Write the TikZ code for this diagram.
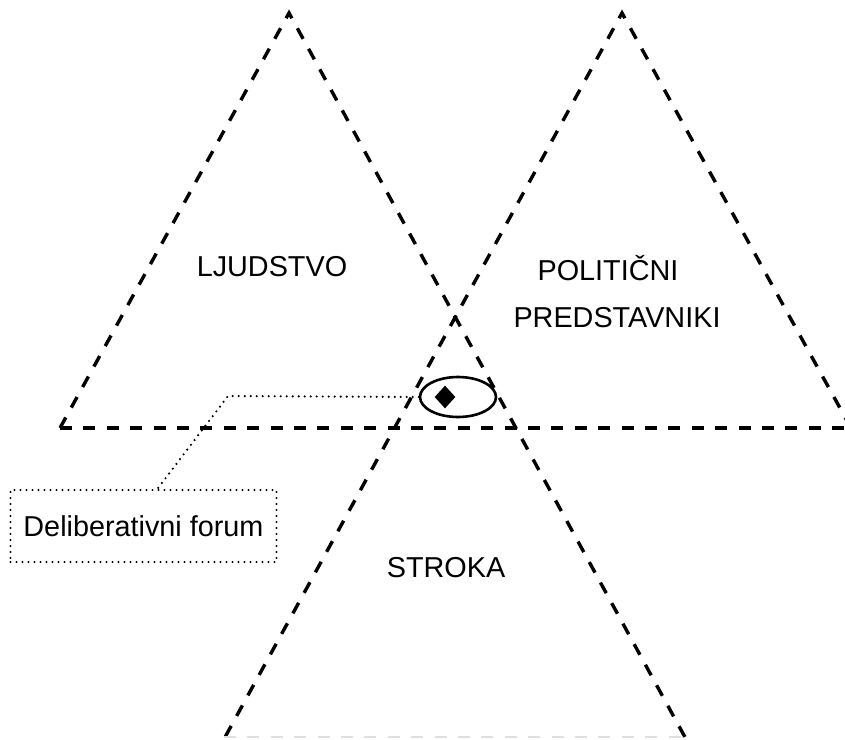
\documentclass[tikz,border=0pt]{standalone}
\usepackage{fontspec}
\setmainfont{Liberation Sans}
\usetikzlibrary{shapes.geometric,calc}

\begin{document}
\begin{tikzpicture}[
  x=0.5pt, y=-0.5pt,
  font=\fontsize{14.4}{17}\selectfont,
  edge/.style={line width=1.7pt, dash pattern=on 6pt off 5.7pt},
  faint/.style={line width=1.2pt, gray!25, dash pattern=on 6pt off 5.7pt},
  callout/.style={line width=1.2pt, line cap=round, dash pattern=on 0pt off 3pt},
  lbl/.style={inner sep=0pt, align=center}
]
\useasboundingbox (0,0) rectangle (845,739);
\clip (0,0) rectangle (845,739);

% ---- Triangle corners ----
\coordinate (ljtop)  at (289,13);
\coordinate (ljleft) at (60,428);
\coordinate (potop)  at (622,13);
\coordinate (poright) at (851,428);
\coordinate (baseend) at (845,428);
\coordinate (stleft)  at (224,739);
\coordinate (stright) at (686,739);

% ---- Triangles (dashed) ----
\draw[edge] (ljleft) -- (ljtop) -- (stright);
\draw[edge] (poright) -- (potop) -- (stleft);
\draw[edge] (ljleft) -- (baseend);
\draw[faint] (stleft |- 0,737) -- (stright |- 0,737);

% ---- Labels ----
\node[lbl] (ljudstvo) at (272,267) {LJUDSTVO};
\node[lbl] (politicni) at (608,268) {POLITIČNI};
\node[lbl] (predst) at (617,318) {PREDSTAVNIKI};
\node[lbl] (stroka) at (446,568) {STROKA};

% ---- Deliberative forum ----
\node[draw, ellipse, line width=1.3pt, minimum width=38pt,
      minimum height=20pt, inner sep=0pt] (forum) at (458,397) {};
\node[diamond, fill=black, inner sep=0pt, minimum width=10.5pt,
      minimum height=11.5pt] (dot) at (445,397) {};
\node[draw, callout, minimum width=133pt, minimum height=36pt,
      inner sep=0pt] (flabel) at (143.5,526) {Deliberativni forum};
\coordinate (bend) at (228,396);
\draw[callout] (forum.west) -- (bend) -- ([xshift=7pt]flabel.north);
\end{tikzpicture}
\end{document}
